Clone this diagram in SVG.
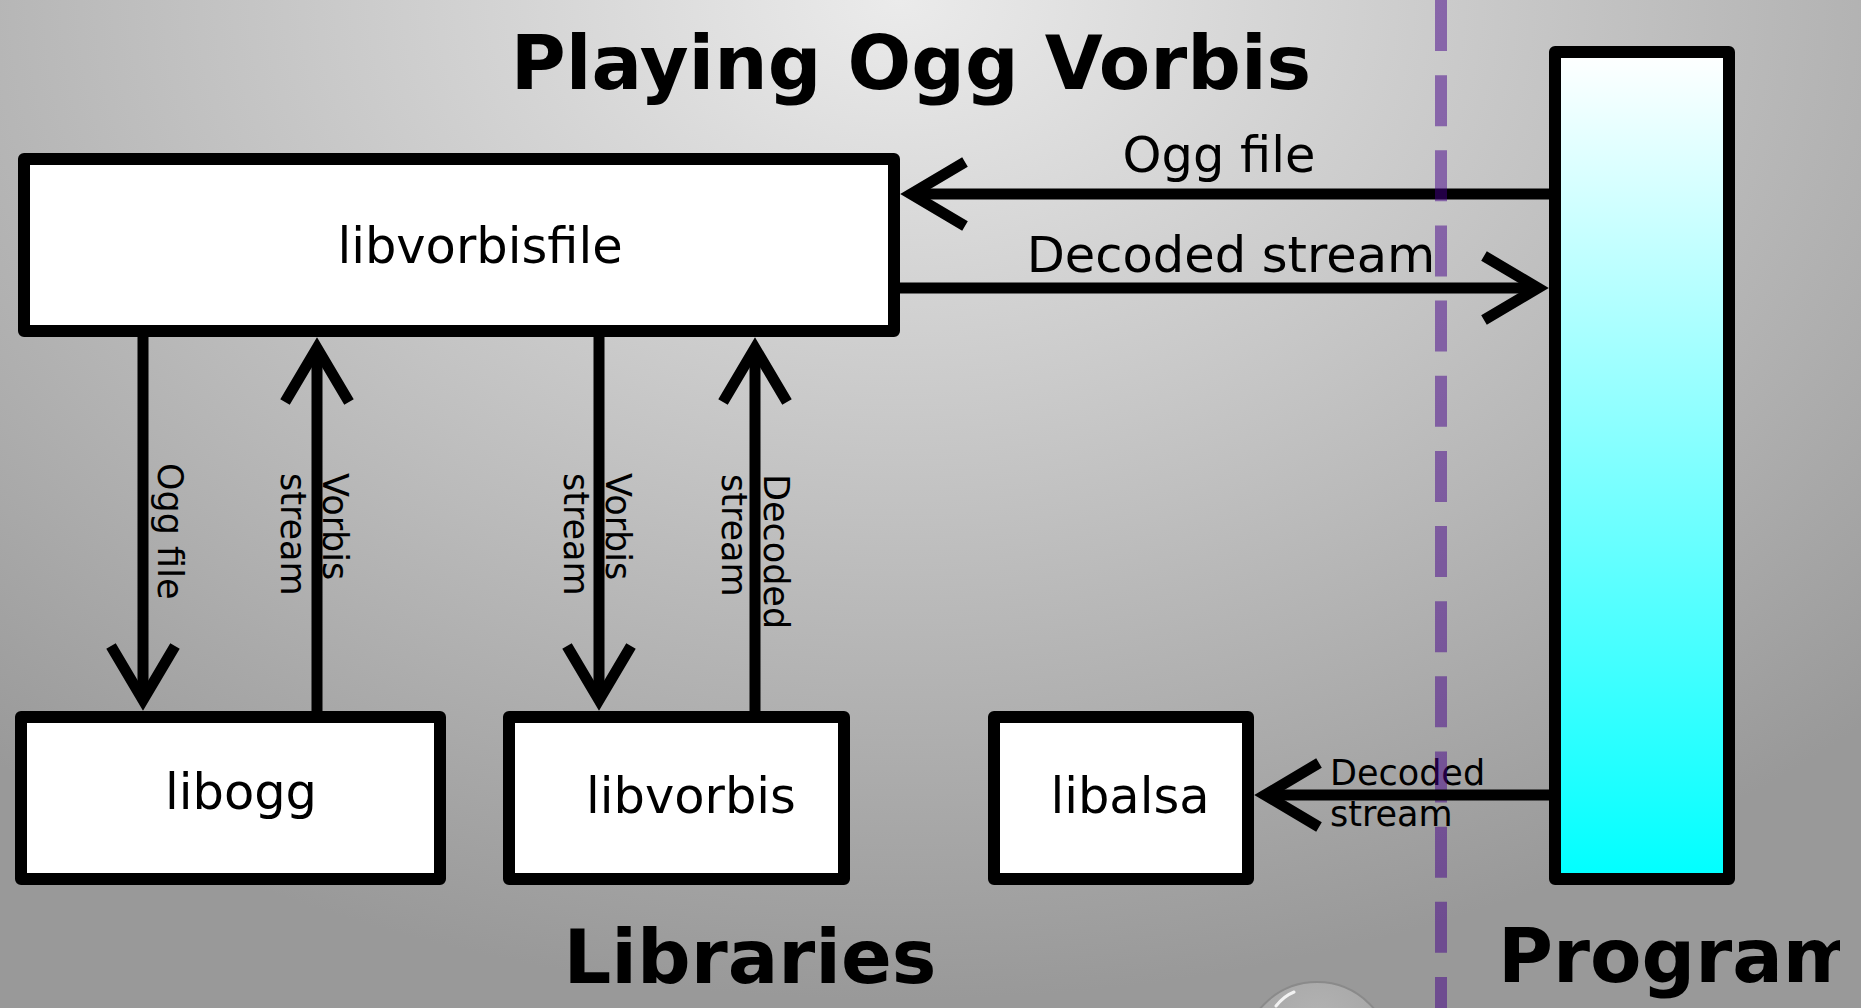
<svg xmlns="http://www.w3.org/2000/svg" width="1861" height="1008" viewBox="0 0 1861 1008">
  <defs>
    <radialGradient id="bg" gradientUnits="userSpaceOnUse" cx="900" cy="0" r="1000" gradientTransform="translate(900 0) scale(1.4 1) translate(-900 0)">
      <stop offset="0" stop-color="#ebebeb"/>
      <stop offset="1" stop-color="#999999"/>
    </radialGradient>
    <linearGradient id="prog" x1="0" y1="52" x2="0" y2="879" gradientUnits="userSpaceOnUse">
      <stop offset="0" stop-color="#ffffff"/>
      <stop offset="1" stop-color="#00ffff"/>
    </linearGradient>
    <radialGradient id="ball" cx="0.5" cy="0.3" r="0.7">
      <stop offset="0" stop-color="#b4b4b4"/>
      <stop offset="0.8" stop-color="#a4a4a4"/>
      <stop offset="1" stop-color="#8c8c8c"/>
    </radialGradient>
    <marker id="arrow" markerUnits="userSpaceOnUse" markerWidth="80" markerHeight="80" refX="0" refY="0" orient="auto" overflow="visible">
      <path d="M-54,-32 L0,0 L-54,32" fill="none" stroke="#000" stroke-width="11" stroke-linejoin="miter" stroke-miterlimit="10"/>
    </marker>
    <clipPath id="clip">
      <rect x="0" y="0" width="1840" height="1008"/>
    </clipPath>
  </defs>
  <style>
    .box { fill: #ffffff; stroke: #000; stroke-width: 12; stroke-linejoin: round; }
    .conn { fill: none; stroke: #000; stroke-width: 11; marker-end: url(#arrow); }
    .lbl { font-family: "DejaVu Sans", "Liberation Sans", sans-serif; font-size: 49.5px; fill: #000; }
    .vl { font-family: "DejaVu Sans", "Liberation Sans", sans-serif; font-size: 35px; fill: #000; }
    .sl { font-family: "DejaVu Sans", "Liberation Sans", sans-serif; font-size: 35px; fill: #000; }
    .big { font-family: "DejaVu Sans", "Liberation Sans", sans-serif; font-size: 75px; font-weight: bold; fill: #000; }
  </style>

  <rect x="0" y="0" width="1861" height="1008" fill="url(#bg)"/>

  <g id="ball-decoration">
    <circle cx="1317" cy="1056" r="74" fill="url(#ball)" stroke="#8a8a8a" stroke-width="2"/>
    <path d="M1276,1006 Q1284,996 1294,992" fill="none" stroke="#f2f2f2" stroke-width="3" stroke-linecap="round"/>
  </g>

  <g id="title">
    <text class="big" x="911" y="89" text-anchor="middle">Playing Ogg Vorbis</text>
  </g>

  <g id="connectors">
    <path class="conn" d="M1549,194 L911,194"/>
    <text class="lbl" x="1219" y="172" text-anchor="middle">Ogg file</text>
    <path class="conn" d="M900,288 L1538,288"/>
    <text class="lbl" x="1231" y="272" text-anchor="middle">Decoded stream</text>

    <path class="conn" d="M143,337 L143,700"/>
    <text class="vl" transform="translate(158 463) rotate(90)">Ogg file</text>

    <path class="conn" d="M317,711 L317,348"/>
    <text class="vl" transform="translate(323 473) rotate(90)"><tspan x="0" y="0">Vorbis</tspan><tspan x="0" y="42">stream</tspan></text>

    <path class="conn" d="M599,337 L599,700"/>
    <text class="vl" transform="translate(606 473) rotate(90)"><tspan x="0" y="0">Vorbis</tspan><tspan x="0" y="42">stream</tspan></text>

    <path class="conn" d="M755,711 L755,348"/>
    <text class="vl" transform="translate(764 474) rotate(90)"><tspan x="0" y="0">Decoded</tspan><tspan x="0" y="42">stream</tspan></text>

    <text class="sl" x="1330" y="785">Decoded</text>
    <text class="sl" x="1330" y="826">stream</text>
  </g>

  <g id="divider">
    <line x1="1441" y1="0" x2="1441" y2="1008" stroke="#440088" stroke-opacity="0.5" stroke-width="12" stroke-dasharray="51 24.15"/>
  </g>

  <g id="connectors-front">
    <path class="conn" d="M1549,795 L1265,795"/>
  </g>

  <g id="libvorbisfile">
    <rect class="box" x="24" y="159" width="870" height="172"/>
    <text class="lbl" x="480" y="263" text-anchor="middle">libvorbisfile</text>
  </g>

  <g id="libogg">
    <rect class="box" x="21" y="717" width="419" height="162"/>
    <text class="lbl" x="241" y="809" text-anchor="middle">libogg</text>
  </g>

  <g id="libvorbis">
    <rect class="box" x="509" y="717" width="335" height="162"/>
    <text class="lbl" x="691" y="813" text-anchor="middle">libvorbis</text>
  </g>

  <g id="libalsa">
    <rect class="box" x="994" y="717" width="254" height="162"/>
    <text class="lbl" x="1130" y="813" text-anchor="middle">libalsa</text>
  </g>

  <g id="program">
    <rect x="1555" y="52" width="174" height="827" fill="url(#prog)" stroke="#000" stroke-width="12" stroke-linejoin="round"/>
  </g>

  <g id="section-labels">
    <text class="big" x="750" y="983" text-anchor="middle">Libraries</text>
    <text class="big" x="1498" y="982" clip-path="url(#clip)">Program</text>
  </g>
</svg>
